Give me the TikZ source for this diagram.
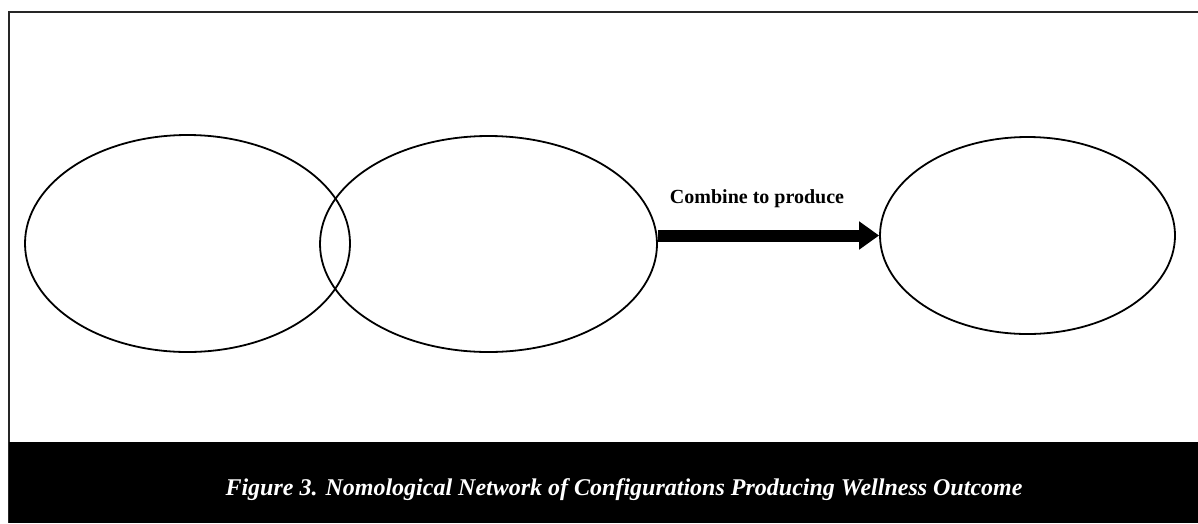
\documentclass[tikz,border=0pt]{standalone}
\usepackage{fontspec}
\setmainfont{Liberation Serif}
\usetikzlibrary{shapes.geometric,arrows.meta,positioning}

\tikzset{
  construct/.style={draw,ellipse,line width=1.8pt,inner sep=0pt},
  flow/.style={line width=12pt,-{Triangle[length=20pt,width=27pt]}},
}

\begin{document}
\begin{tikzpicture}[x=1pt,y=-1pt]
\useasboundingbox (0,0) rectangle (1198,523);

% frame and caption bar
\draw[line width=2pt,black!85] (8,12) -- (1198,12);
\draw[line width=2pt,black!85] (9,12) -- (9,523);
\fill[black] (9,442) rectangle (1198,523);
\node[text=white,font=\fontsize{24}{28}\selectfont\bfseries\itshape] (cap) at (624,490)
  {Figure 3. Nomological Network of Configurations Producing Wellness Outcome};

% the three configurations
\node[construct,minimum width=325pt,minimum height=217pt] (c1) at (187.5,243.5) {};
\node[construct,minimum width=337pt,minimum height=216pt] (c2) at (488.5,244) {};
\node[construct,minimum width=295pt,minimum height=197pt] (c3) at (1027.5,235.5) {};

\draw[flow] (c2.east |- c3) -- (c3.west);
\node[font=\fontsize{20}{24}\selectfont\bfseries] (lbl) at (757,199) {Combine to produce};

\end{tikzpicture}
\end{document}
